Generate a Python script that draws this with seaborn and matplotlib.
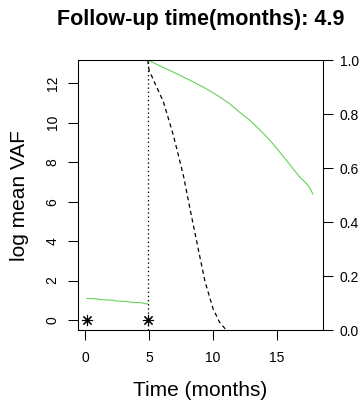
import matplotlib
matplotlib.use("Agg")
import matplotlib.pyplot as plt
import seaborn as sns
import pandas as pd

sns.set_theme(style="white")
plt.rcParams['font.family'] = ['Liberation Sans', 'DejaVu Sans']
plt.rcParams['lines.scale_dashes'] = False

title = "Follow-up time(months): 4.9"
xlabel = "Time (months)"
ylabel = "log mean VAF"
followup = 4.9

# observed log mean VAF (left axis)
obs_time = [0.13, 1.0, 1.1, 2.2, 2.3, 3.4, 3.5, 4.5, 4.6, 4.9]
obs_vaf = [1.09, 1.07, 1.04, 1.00, 0.97, 0.93, 0.90, 0.87, 0.83, 0.82]
star_time = [0.13, 4.9]
star_vaf = [0, 0]

# predicted curve (right axis)
pred_time = [4.9, 6.0, 6.9, 8.0, 8.7, 9.5, 10.5, 11.3, 12.1, 13.0, 13.9, 14.5,
             15.2, 16.0, 16.8, 17.3, 17.6, 17.8]
pred_prob = [1.0, 0.975, 0.955, 0.93, 0.913, 0.893, 0.864, 0.838, 0.806, 0.772,
             0.730, 0.70, 0.66, 0.613, 0.565, 0.543, 0.525, 0.503]

# lower bound (right axis)
low_time = [4.9, 5.0, 5.5, 6.12, 6.9, 7.68, 8.2, 8.73, 9.38, 10.0, 10.5, 10.94, 11.0]
low_prob = [1.0, 0.963, 0.91, 0.846, 0.722, 0.574, 0.45, 0.327, 0.179, 0.08, 0.03, 0.005, 0.0]

# upper bound (right axis)
up_time = [4.9, 18.0]
up_prob = [1.0, 1.0]

yticks_left = [0, 2, 4, 6, 8, 10, 12]
yticks_right = [0.0, 0.2, 0.4, 0.6, 0.8, 1.0]
xticks = [0, 5, 10, 15]

W, H = 362, 405
fig = plt.figure(figsize=(W / 100, H / 100), dpi=100)
fig.patch.set_facecolor('white')
ax = fig.add_axes([78 / W, 1 - 330 / H, (323 - 78) / W, 270 / H])
ax.set_facecolor('white')

green = '#5ccf4f'
lw = 0.75

sns.lineplot(x=obs_time, y=obs_vaf, ax=ax, color=green, linewidth=lw,
             sort=False, estimator=None)
sns.scatterplot(x=star_time, y=star_vaf, ax=ax, marker=(8, 2, 0), s=55,
                color='black', edgecolor='black', linewidth=0.8, zorder=5)
ax.axvline(followup, color='black', linewidth=0.9, linestyle=(0, (1.0, 2.0)))

ax.set_xlim(-0.55, 18.6)
ax.set_ylim(-0.507, 13.18)
ax.set_xticks(xticks)
ax.set_yticks(yticks_left)
ax.set_xticklabels([str(v) for v in xticks])
ax.set_yticklabels([str(v) for v in yticks_left])
ax.tick_params(axis='both', direction='out', length=7.2, width=lw, colors='black',
               labelsize=10, bottom=True, left=True)
ax.tick_params(axis='x', pad=8)
ax.tick_params(axis='y', pad=6, labelrotation=90)
for lab in ax.get_yticklabels():
    lab.set_va('center')
for sp in ax.spines.values():
    sp.set_color('black')
    sp.set_linewidth(lw)
    sp.set_visible(True)
ax.set_xlabel('')
ax.set_ylabel('')

ax2 = ax.twinx()
sns.lineplot(x=pred_time, y=pred_prob, ax=ax2, color=green, linewidth=lw,
             sort=False, estimator=None)
sns.lineplot(x=low_time, y=low_prob, ax=ax2, color='black', linewidth=0.9,
             linestyle=(0, (3.0, 2.4)), sort=False, estimator=None)
sns.lineplot(x=up_time, y=up_prob, ax=ax2, color='black', linewidth=1.3,
             linestyle=(0, (3.0, 2.4)), sort=False, estimator=None)
ax2.set_ylim(0, 1)
ax2.set_xlim(-0.55, 18.6)
ax2.set_yticks(yticks_right)
ax2.set_yticklabels([f"{v:.1f}" for v in yticks_right])
ax2.tick_params(axis='y', direction='out', length=7.2, width=lw, colors='black',
                labelsize=10, pad=5, right=True)
ax2.set_ylabel('')
for sp in ax2.spines.values():
    sp.set_color('black')
    sp.set_linewidth(lw)

fig.text(200.5 / W, 1 - 25 / H, title, ha='center', va='baseline',
         fontsize=15.5, fontweight='bold', color='black')
fig.text(200.5 / W, 1 - 396 / H, xlabel, ha='center', va='baseline',
         fontsize=15, color='black')
fig.text(25 / W, 1 - 196 / H, ylabel, ha='center', va='baseline', rotation=90,
         rotation_mode='anchor', fontsize=15, color='black')

fig.savefig('out.png', dpi=100, facecolor='white')
